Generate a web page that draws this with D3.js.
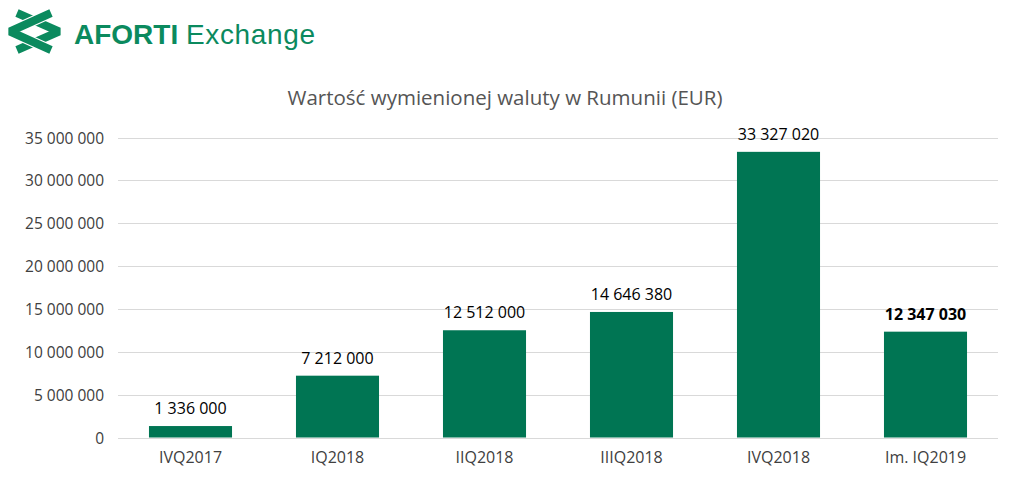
<!DOCTYPE html>
<html><head><meta charset="utf-8">
<script src="https://cdn.jsdelivr.net/npm/d3@7/dist/d3.min.js"></script>
<style>body{margin:0;background:#fff}svg{display:block}</style>
</head><body>
<svg id="c" width="1024" height="477"></svg>
<script>
const categories = ["IVQ2017","IQ2018","IIQ2018","IIIQ2018","IVQ2018","Im. IQ2019"];
const values = [1336000, 7212000, 12512000, 14646380, 33327020, 12347030];
const boldLabel = [false,false,false,false,false,true];
const yTicks = [0,5000000,10000000,15000000,20000000,25000000,30000000,35000000];
const title = "Wartość wymienionej waluty w Rumunii (EUR)";

const svg = d3.select("#c");
const font = "'Open Sans', sans-serif";
const barColor = "#007553";
const logoColor = "#0b8a5e";
const fmt = d3.formatLocale({decimal:",", thousands:"\u2009", grouping:[3], currency:["",""]}).format(",");
const fmtSp = v => fmt(v).replace(/\u2009/g, " ");

// Logo
const logo = svg.append("g");
const chevR = "M17,13 L59,31.5 L17,50";
const chevL = "M51,13 L10,31.5 L51,50";
logo.append("path").attr("d",chevR).attr("fill","none")
  .attr("stroke",logoColor).attr("stroke-width",8).attr("stroke-linejoin","bevel");
logo.append("path").attr("d",chevL).attr("fill","none")
  .attr("stroke","#fff").attr("stroke-width",10.5).attr("stroke-linejoin","bevel");
logo.append("path").attr("d",chevL).attr("fill","none")
  .attr("stroke",logoColor).attr("stroke-width",8).attr("stroke-linejoin","bevel");
logo.append("text").attr("x",74).attr("y",44).attr("font-family","'Liberation Sans', Arial, sans-serif")
  .attr("font-weight","bold").attr("font-size",28).attr("fill",logoColor).text("AFORTI");
logo.append("text").attr("x",186).attr("y",44).attr("font-family","'Liberation Sans', Arial, sans-serif")
  .attr("font-size",28).attr("fill",logoColor).attr("textLength",129).text("Exchange");

// Title
svg.append("text").attr("x",505).attr("y",105).attr("text-anchor","middle")
  .attr("font-family",font).attr("font-size",20.5).attr("fill","#555555").text(title);

const x = d3.scaleBand().domain(categories).range([117, 999]).paddingInner(0.435).paddingOuter(0.2175);
const y = d3.scaleLinear().domain([0, 35000000]).range([437.5, 137.5]);

// Grid
svg.append("g").selectAll("line").data(yTicks).join("line")
  .attr("x1",118).attr("x2",998)
  .attr("y1",d=>Math.round(y(d))+0.5).attr("y2",d=>Math.round(y(d))+0.5)
  .attr("stroke","#d9d9d9").attr("stroke-width",1);

// Y axis labels
const yAxis = svg.append("g").attr("transform","translate(104,0)")
  .call(d3.axisLeft(y).tickValues(yTicks).tickFormat(fmtSp).tickSize(0).tickPadding(0));
yAxis.select(".domain").remove();
yAxis.selectAll("text").attr("font-family",font).attr("font-size",15.5).attr("fill","#404040").attr("dy","0.36em");

// Bars
svg.append("g").selectAll("rect").data(values).join("rect")
  .attr("x",(d,i)=>x(categories[i])).attr("width",x.bandwidth())
  .attr("y",d=>y(d)).attr("height",d=>y(0)-y(d)).attr("fill",barColor);

// Value labels
svg.append("g").selectAll("text").data(values).join("text")
  .attr("x",(d,i)=>x(categories[i])+x.bandwidth()/2).attr("y",d=>y(d)-12)
  .attr("text-anchor","middle").attr("font-family",font).attr("font-size",16)
  .attr("font-weight",(d,i)=>boldLabel[i]?"bold":"normal")
  .attr("fill","#000").text(fmtSp);

// X axis
const xAxis = svg.append("g").attr("transform","translate(0,463)")
  .call(d3.axisBottom(x).tickSize(0).tickPadding(0));
xAxis.select(".domain").remove();
xAxis.selectAll("text").attr("font-family",font).attr("font-size",16).attr("fill","#404040").attr("dy",0);
</script>
</body></html>
